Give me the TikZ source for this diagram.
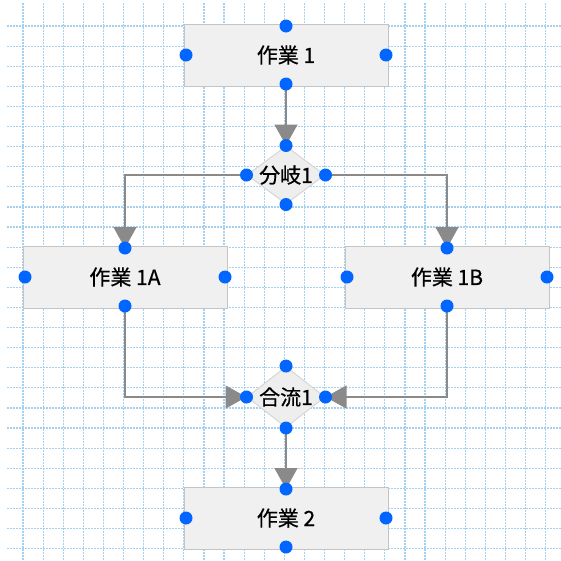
\documentclass[tikz,border=0pt]{standalone}
\usepackage{fontspec}
\usetikzlibrary{arrows.meta,shapes.geometric}
\newfontfamily\jpfont{Noto Sans CJK JP}[FakeBold=0.6]
\definecolor{gridblue}{RGB}{166,208,240}
\definecolor{boxfill}{RGB}{240,240,240}
\definecolor{boxline}{RGB}{196,196,196}
\definecolor{dmdfill}{RGB}{238,238,238}
\definecolor{dmdline}{RGB}{214,214,214}
\definecolor{lngray}{RGB}{138,138,138}
\definecolor{pinblue}{RGB}{0,102,255}
\tikzset{
  grd/.style={draw=gridblue,line width=1.2pt,dash pattern=on 1.5pt off 1.5pt},
  txt/.style={font=\jpfont\fontsize{21pt}{21pt}\selectfont,text=black},
  tsk/.style={txt,rectangle,draw=boxline,fill=boxfill,line width=1pt,minimum width=204pt,minimum height=62pt,outer sep=-2pt},
  dec/.style={diamond,draw=dmdline,fill=dmdfill,line width=1pt,minimum width=78pt,minimum height=58pt,inner sep=0pt},
  cnx/.style={draw=lngray,line width=1.4pt,-{Triangle[width=23pt,length=21pt]},lngray},
  pin/.style={circle,fill=pinblue,minimum size=13pt,inner sep=0pt}
}
\begin{document}
\begin{tikzpicture}[x=1pt,y=-1pt]
  \useasboundingbox[fill=white] (0,0) rectangle (561,560);
  \foreach \i in {0,...,26} {
    \draw[grd] ({23+20.1*\i},3) -- ({23+20.1*\i},560);
    \draw[grd] (7,{26+20.1*\i}) -- (561,{26+20.1*\i});
  }

  \node[tsk] (t1) at (286,55) {作業 1};
  \node[dec,label={[txt]center:分岐1}] (br) at (286,175) {};
  \node[tsk] (t1a) at (125,277) {作業 1A};
  \node[tsk] (t1b) at (447,277) {作業 1B};
  \node[dec,minimum height=61pt,label={[txt]center:合流1}] (mg) at (286,397) {};
  \node[tsk] (t2) at (286,518) {作業 2};

  \draw[cnx] (t1.south) -- (br.north);
  \draw[cnx] (br.west) -| (t1a.north);
  \draw[cnx] (br.east) -| (t1b.north);
  \draw[cnx] (t1a.south) |- (mg.west);
  \draw[cnx] (t1b.south) |- (mg.east);
  \draw[cnx] (mg.south) -- (t2.north);

  \foreach \n in {t1,br,t1a,t1b,mg,t2} \foreach \a in {north,south,east,west}
    \node[pin] (pin-\n-\a) at (\n.\a) {};
\end{tikzpicture}
\end{document}
